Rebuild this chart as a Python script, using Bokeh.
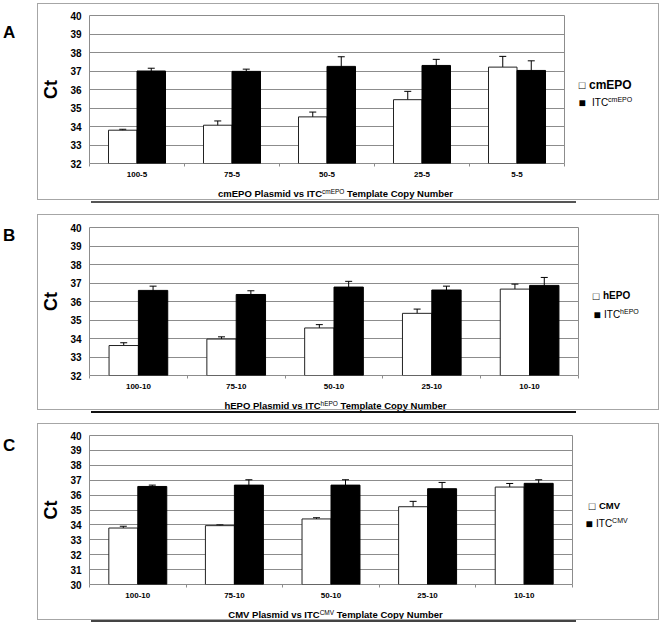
from bokeh.plotting import figure
from bokeh.models import Range1d, FixedTicker, Whisker, TeeHead, ColumnDataSource, Div, Spacer
from bokeh.layouts import column, row
from bokeh.embed import file_html
from bokeh.resources import INLINE

FONT = "Liberation Sans"
CSSFONT = "'Liberation Sans', Arial, sans-serif"
GRID = "#8c8c8c"
BOX = "#a6a6a6"

# ---------------- data ----------------
cats_A = ["100-5", "75-5", "50-5", "25-5", "5-5"]
plasmid_A = [33.80, 34.07, 34.52, 35.45, 37.21]
plasmid_err_A = [0.05, 0.23, 0.26, 0.45, 0.58]
itc_A = [37.00, 36.98, 37.25, 37.30, 37.03]
itc_err_A = [0.15, 0.12, 0.52, 0.33, 0.52]
yticks_A = [32, 33, 34, 35, 36, 37, 38, 39, 40]

cats_B = ["100-10", "75-10", "50-10", "25-10", "10-10"]
plasmid_B = [33.62, 33.97, 34.57, 35.36, 36.67]
plasmid_err_B = [0.15, 0.12, 0.18, 0.23, 0.27]
itc_B = [36.60, 36.38, 36.78, 36.62, 36.87]
itc_err_B = [0.23, 0.20, 0.31, 0.21, 0.43]
yticks_B = [32, 33, 34, 35, 36, 37, 38, 39, 40]

cats_C = ["100-10", "75-10", "50-10", "25-10", "10-10"]
plasmid_C = [33.79, 33.95, 34.40, 35.22, 36.54]
plasmid_err_C = [0.12, 0.05, 0.08, 0.36, 0.24]
itc_C = [36.58, 36.67, 36.67, 36.43, 36.79]
itc_err_C = [0.09, 0.36, 0.36, 0.42, 0.24]
yticks_C = [30, 31, 32, 33, 34, 35, 36, 37, 38, 39, 40]

names = ["cmEPO", "hEPO", "CMV"]
panel_letters = ["A", "B", "C"]

INNER_W = 620  # inner width of each boxed panel


def make_fig(cats, pv, pe, iv, ie, yt, w, h, top):
    n = len(cats)
    ymin, ymax = yt[0], yt[-1]
    p = figure(width=w, height=h, output_backend="svg", toolbar_location=None,
               x_range=Range1d(-0.5, n - 0.5), y_range=Range1d(ymin, ymax),
               min_border_left=46, min_border_right=4,
               min_border_top=top, min_border_bottom=22)
    p.background_fill_color = "white"
    p.border_fill_color = "white"
    p.outline_line_color = GRID
    p.outline_line_width = 1

    idx = list(range(n))
    xw = [i - 0.15 for i in idx]
    xb = [i + 0.15 for i in idx]
    p.vbar(x=xw, top=pv, bottom=ymin, width=0.3, fill_color="white",
           line_color="#222222", line_width=1)
    p.vbar(x=xb, top=iv, bottom=ymin, width=0.3, fill_color="black",
           line_color="black", line_width=1)
    for xs, v, e in ((xw, pv, pe), (xb, iv, ie)):
        src = ColumnDataSource(dict(x=xs, upper=[a + b for a, b in zip(v, e)],
                                    lower=[a - b for a, b in zip(v, e)]))
        p.add_layout(Whisker(source=src, base="x", upper="upper", lower="lower",
                             line_color="black", line_width=1,
                             upper_head=TeeHead(size=7, line_color="black", line_width=1),
                             lower_head=TeeHead(size=7, line_color="black", line_width=1)))

    xa = p.xaxis[0]
    xa.ticker = FixedTicker(ticks=idx, minor_ticks=[i - 0.5 for i in range(n + 1)])
    xa.major_label_overrides = {i: c for i, c in enumerate(cats)}
    xa.major_label_text_font = FONT
    xa.major_label_text_font_size = "8px"
    xa.major_label_text_font_style = "bold"
    xa.major_label_text_color = "black"
    xa.major_label_standoff = 5
    xa.major_tick_out = 0
    xa.major_tick_in = 0
    xa.minor_tick_out = 3
    xa.minor_tick_in = 0
    xa.minor_tick_line_color = GRID
    xa.axis_line_color = None

    ya = p.yaxis[0]
    ya.ticker = FixedTicker(ticks=yt)
    ya.major_label_text_font = FONT
    ya.major_label_text_font_size = "10px"
    ya.major_label_text_font_style = "bold"
    ya.major_label_text_color = "black"
    ya.major_label_standoff = 8
    ya.major_tick_out = 0
    ya.major_tick_in = 0
    ya.minor_tick_out = 0
    ya.minor_tick_in = 0
    ya.axis_line_color = None
    ya.axis_label = "Ct"
    ya.axis_label_text_font = FONT
    ya.axis_label_text_font_size = "18px"
    ya.axis_label_text_font_style = "bold"
    ya.axis_label_text_color = "black"
    ya.axis_label_standoff = 6

    p.xgrid.visible = False
    p.ygrid.ticker = FixedTicker(ticks=yt)
    p.ygrid.grid_line_color = GRID
    p.ygrid.grid_line_width = 1
    return p


def legend_div(name, w, h, L):
    base = f"position:absolute;white-space:nowrap;font-family:{CSSFONT};color:black;"
    s = f'<div style="position:relative;width:{w}px;height:{h}px;">'
    s += (f'<div style="{base}left:{L["sq1"][0] - 6}px;top:{L["sq1"][1] - 7}px;width:12px;'
          f'height:14px;line-height:14px;text-align:center;font-size:11px;">&#9633;</div>')
    s += (f'<div style="{base}left:{L["n1"]}px;top:{L["sq1"][1] - 7}px;height:14px;'
          f'line-height:14px;font-size:{L["nsize"]};font-weight:bold;">{name}</div>')
    s += (f'<div style="{base}left:{L["sq2"][0] - 6}px;top:{L["sq2"][1] - 7}px;width:12px;'
          f'height:14px;line-height:14px;text-align:center;font-size:12px;">&#9632;</div>')
    s += (f'<div style="{base}left:{L["itc"]}px;top:{L["sq2"][1] - 7}px;height:14px;'
          f'line-height:14px;font-size:10px;">ITC<sup style="font-size:7px;line-height:0;'
          f'vertical-align:4px;">{name}</sup></div>')
    s += '</div>'
    return Div(text=s, width=w, height=h, margin=0)


def title_div(name, w, h, lh):
    s = (f'<div style="width:595px;height:{h}px;text-align:center;line-height:{lh}px;'
         f'font-family:{CSSFONT};font-size:9.5px;font-weight:bold;color:black;white-space:nowrap;">'
         f'{name} Plasmid vs ITC<sup style="font-size:6.5px;font-weight:normal;line-height:0;'
         f'vertical-align:3px;">{name}</sup> Template Copy Number</div>')
    return Div(text=s, width=w, height=h, margin=0)


def letter_div(t, mt, h):
    return Div(text=(f'<div style="margin-top:{mt}px;margin-left:3px;font-family:{CSSFONT};'
                     f'font-weight:bold;font-size:17px;line-height:20px;color:black">{t}</div>'),
               width=37, height=h, margin=0)


def hline(w, color, h=1):
    return Spacer(width=w, height=h, styles={"background-color": color})


def vline(h, color):
    return Spacer(width=1, height=h, styles={"background-color": color})


def boxed_panel(letter, letter_mt, fig, legend, title, inner_h):
    content = column(row(fig, legend), title)
    box = column(hline(INNER_W + 2, BOX),
                 row(vline(inner_h, BOX), content, vline(inner_h, BOX)),
                 hline(INNER_W + 2, BOX))
    return row(letter_div(letter, letter_mt, inner_h + 2), box)


def underline(color):
    return row(Spacer(width=91, height=2), hline(485, color, 2))


# Panel A  (box 3..199)
wA, hA = 530, 181
pA = make_fig(cats_A, plasmid_A, plasmid_err_A, itc_A, itc_err_A, yticks_A, wA, hA, 11)
legA = legend_div(names[0], INNER_W - wA, hA,
                  dict(sq1=(14, 81), n1=21, sq2=(14, 99), itc=24, nsize="12px"))
titA = title_div(names[0], INNER_W, 14, 14)
panelA = boxed_panel("A", 20, pA, legA, titA, 195)

# Panel B  (box 213..408)
wB, hB = 544, 182
pB = make_fig(cats_B, plasmid_B, plasmid_err_B, itc_B, itc_err_B, yticks_B, wB, hB, 12)
legB = legend_div(names[1], INNER_W - wB, hB,
                  dict(sq1=(14, 81), n1=21, sq2=(15, 100), itc=22, nsize="10px"))
titB = title_div(names[1], INNER_W, 12, 10)
panelB = boxed_panel("B", 12, pB, legB, titB, 194)

# Panel C  (box 422..618)
wC, hC = 538, 182
pC = make_fig(cats_C, plasmid_C, plasmid_err_C, itc_C, itc_err_C, yticks_C, wC, hC, 11)
legC = legend_div(names[2], INNER_W - wC, hC,
                  dict(sq1=(16, 82), n1=23, sq2=(13, 100), itc=20, nsize="9.5px"))
titC = title_div(names[2], INNER_W, 13, 12)
panelC = boxed_panel("C", 13, pC, legC, titC, 195)

layout = column(
    Spacer(width=10, height=3),
    panelA,
    Spacer(width=10, height=1),
    underline("#555555"),
    Spacer(width=10, height=11),
    panelB,
    Spacer(width=10, height=1),
    underline("#111111"),
    Spacer(width=10, height=10),
    panelC,
    underline("#444444"),
)

open("out.html", "w").write(file_html(layout, INLINE))
